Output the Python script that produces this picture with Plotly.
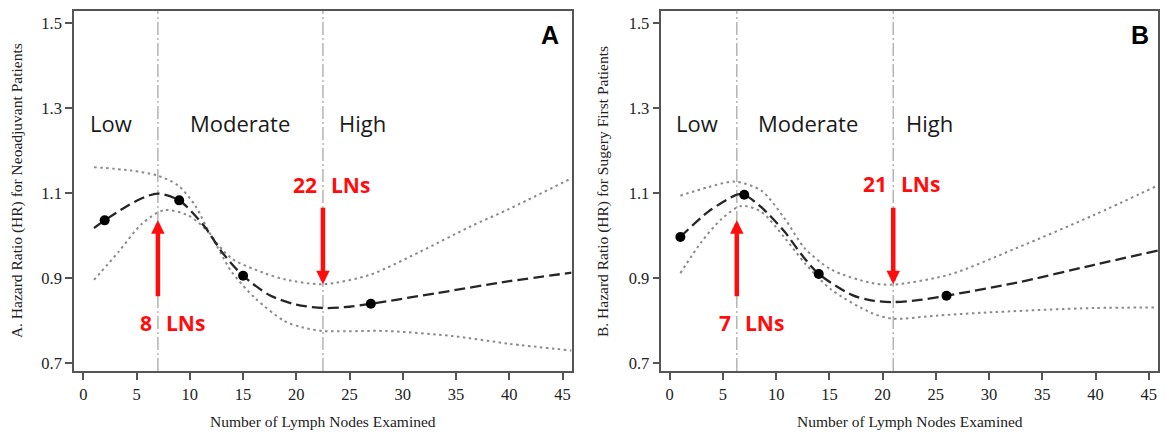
import plotly.graph_objects as go

# ---------------- data ----------------
# Panel A (neoadjuvant)
a_hr_x = [1, 2, 4, 5.5, 7, 9, 11.4, 13, 15, 17.5, 20, 22.5, 25, 27, 33.2, 40, 45.85]
a_hr_y = [1.018, 1.036, 1.068, 1.088, 1.099, 1.083, 1.021, 0.962, 0.906, 0.860, 0.838, 0.830, 0.833, 0.840, 0.865, 0.893, 0.913]
a_up_x = [1, 4.5, 7, 8.9, 10.5, 12, 13.9, 17, 19, 22.5, 26.9, 31.6, 36.3, 40, 45.85]
a_up_y = [1.161, 1.153, 1.141, 1.118, 1.071, 1.001, 0.947, 0.912, 0.897, 0.886, 0.908, 0.962, 1.021, 1.063, 1.135]
a_lo_x = [1, 3.3, 5.5, 7.6, 9.8, 11.7, 13.9, 16.1, 18.9, 20.5, 22.5, 28.5, 34.7, 40, 45.85]
a_lo_y = [0.896, 0.962, 1.028, 1.060, 1.048, 1.009, 0.916, 0.854, 0.799, 0.785, 0.776, 0.776, 0.764, 0.746, 0.730]
a_pts_x = [2, 9, 15, 27]
a_pts_y = [1.036, 1.083, 0.906, 0.840]
a_cuts = [7, 22.5]
a_cut_labels = ["8", "22"]

# Panel B (surgery first)
b_hr_x = [1, 3.6, 6.4, 7, 8.6, 10.8, 12.4, 14, 17.1, 18.9, 21, 23.5, 26, 32.5, 39.8, 45.85]
b_hr_y = [0.997, 1.056, 1.097, 1.096, 1.067, 1.009, 0.955, 0.910, 0.861, 0.848, 0.844, 0.849, 0.859, 0.889, 0.931, 0.965]
b_up_x = [1, 3.6, 6.1, 8.6, 10.8, 12.7, 15.2, 18.9, 20.9, 26.2, 32.5, 39.8, 45.85]
b_up_y = [1.094, 1.114, 1.127, 1.106, 1.040, 0.970, 0.920, 0.889, 0.885, 0.908, 0.970, 1.048, 1.118]
b_lo_x = [1, 3, 4.9, 6.75, 8.6, 10.8, 12.7, 15.2, 18.9, 20.9, 25, 29.4, 39.8, 45.85]
b_lo_y = [0.912, 0.986, 1.040, 1.070, 1.056, 0.995, 0.935, 0.873, 0.819, 0.805, 0.812, 0.819, 0.830, 0.831]
b_pts_x = [1, 7, 14, 26]
b_pts_y = [0.997, 1.096, 0.910, 0.859]
b_cuts = [6.3, 21]
b_cut_labels = ["7", "21"]

x_ticks = [0, 5, 10, 15, 20, 25, 30, 35, 40, 45]
y_ticks = [0.7, 0.9, 1.1, 1.3, 1.5]
y_ticklabels = ["0.7", "0.9", "1.1", "1.3", "1.5"]
regions = ["Low", "Moderate", "High"]

# ---------------- style / layout constants ----------------
W, H = 1169, 435
ML, MR, MT, MB = 74, 10, 9, 64
RED = "#ff0d0d"
SERIF = "Liberation Serif"
SANS = "Open Sans"

fig = go.Figure()

def add_panel(xa, ya, hx, hy, ux, uy, lx, ly, px, py):
    for cx, cy in ((ux, uy), (lx, ly)):
        fig.add_trace(go.Scatter(x=cx, y=cy, mode="lines", xaxis=xa, yaxis=ya,
                                 line=dict(color="#8a8a8a", width=2, dash="2.5px,3.5px", shape="spline", smoothing=0.8),
                                 hoverinfo="skip", showlegend=False))
    fig.add_trace(go.Scatter(x=hx, y=hy, mode="lines", xaxis=xa, yaxis=ya,
                             line=dict(color="#262626", width=2.3, dash="11px,5px", shape="spline", smoothing=0.8),
                             showlegend=False))
    fig.add_trace(go.Scatter(x=px, y=py, mode="markers", xaxis=xa, yaxis=ya,
                             marker=dict(color="#000000", size=10), showlegend=False))

add_panel("x", "y", a_hr_x, a_hr_y, a_up_x, a_up_y, a_lo_x, a_lo_y, a_pts_x, a_pts_y)
add_panel("x2", "y2", b_hr_x, b_hr_y, b_up_x, b_up_y, b_lo_x, b_lo_y, b_pts_x, b_pts_y)

ann = []
shapes = []

panels = [
    dict(xr="x", yr="y", cuts=a_cuts, labs=a_cut_labels, letter="A", letter_x=43.8,
         region_x=[2.6, 14.7, 26.2], up_label_y=0.795, down_label_y=1.118,
         title="A. Hazard Ratio (HR) for Neoadjuvant Patients", ytitle_x=-0.0525, xtitle_x=0.2295),
    dict(xr="x2", yr="y2", cuts=b_cuts, labs=b_cut_labels, letter="B", letter_x=44.2,
         region_x=[2.6, 13.0, 24.4], up_label_y=0.795, down_label_y=1.122,
         title="B. Hazard Ratio (HR) for Sugery First Patients", ytitle_x=0.488, xtitle_x=0.771),
]

for p in panels:
    xr, yr = p["xr"], p["yr"]
    for c in p["cuts"]:
        shapes.append(dict(type="line", xref=xr, yref=yr + " domain", x0=c, x1=c, y0=0, y1=1,
                           line=dict(color="#b4b4b4", width=1.5, dash="13px,3px,2px,3px"), layer="below"))
    # region labels
    for rx, rt in zip(p["region_x"], regions):
        ann.append(dict(x=rx, y=1.265, xref=xr, yref=yr, text=rt, showarrow=False,
                        font=dict(family=SANS, size=22, color="#1a1a1a"), xanchor="center", yanchor="middle"))
    # panel letter
    ann.append(dict(x=p["letter_x"], y=1.472, xref=xr, yref=yr, text="<b>%s</b>" % p["letter"], showarrow=False,
                    font=dict(family="Liberation Sans", size=25, color="#000"), xanchor="center", yanchor="middle"))
    # arrows
    c1, c2 = p["cuts"]
    ann.append(dict(x=c1, y=1.036, ax=c1, ay=0.854, xref=xr, yref=yr, axref=xr, ayref=yr, text="",
                    showarrow=True, arrowhead=2, arrowsize=0.6, arrowwidth=4.5, arrowcolor=RED))
    ann.append(dict(x=c2, y=0.886, ax=c2, ay=1.069, xref=xr, yref=yr, axref=xr, ayref=yr, text="",
                    showarrow=True, arrowhead=2, arrowsize=0.6, arrowwidth=4.5, arrowcolor=RED))
    # arrow labels
    for c, lab, ly in ((c1, p["labs"][0], p["up_label_y"]), (c2, p["labs"][1], p["down_label_y"])):
        ann.append(dict(x=c, y=ly, xref=xr, yref=yr, text="<b>%s</b>" % lab, showarrow=False, xshift=-4,
                        font=dict(family=SANS, size=21, color=RED), xanchor="right", yanchor="middle"))
        ann.append(dict(x=c, y=ly, xref=xr, yref=yr, text="<b>LNs</b>", showarrow=False, xshift=6,
                        font=dict(family=SANS, size=21, color=RED), xanchor="left", yanchor="middle"))
    # axis titles
    ann.append(dict(x=p["ytitle_x"], y=0.5, xref="paper", yref="paper", text=p["title"], textangle=-90,
                    showarrow=False, font=dict(family=SERIF, size=15.5, color="#222"),
                    xanchor="center", yanchor="middle"))
    ann.append(dict(x=p["xtitle_x"], y=-0.14, xref="paper", yref="paper", text="Number of Lymph Nodes Examined",
                    showarrow=False, font=dict(family=SERIF, size=15.5, color="#222"),
                    xanchor="center", yanchor="middle"))

axis_common = dict(showgrid=False, zeroline=False, showline=True, mirror=True, linecolor="#555",
                   linewidth=1.5, ticks="outside", ticklen=7, tickwidth=1.5, tickcolor="#555",
                   tickfont=dict(family=SERIF, size=16.5, color="#222"))

fig.update_layout(
    width=W, height=H, margin=dict(l=ML, r=MR, t=MT, b=MB),
    paper_bgcolor="white", plot_bgcolor="white", showlegend=False,
    xaxis=dict(domain=[0, 0.459], range=[-0.88, 45.85], tickvals=x_ticks, anchor="y", **axis_common),
    xaxis2=dict(domain=[0.5419, 1], range=[-0.78, 45.87], tickvals=x_ticks, anchor="y2", **axis_common),
    yaxis=dict(range=[0.682, 1.528], tickvals=y_ticks, ticktext=y_ticklabels, anchor="x", **axis_common),
    yaxis2=dict(range=[0.682, 1.528], tickvals=y_ticks, ticktext=y_ticklabels, anchor="x2", **axis_common),
    annotations=ann, shapes=shapes,
)

fig.write_html("out.html", config={"displayModeBar": False},
               post_script="document.body.style.margin='0';document.body.style.overflow='hidden';")
